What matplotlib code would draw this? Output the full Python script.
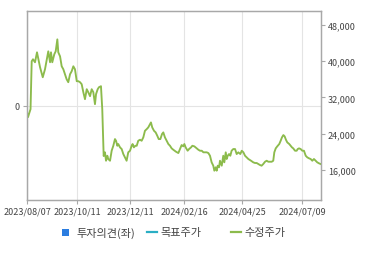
import matplotlib

matplotlib.use("Agg")
import matplotlib.pyplot as plt  # noqa: E402
from matplotlib.lines import Line2D  # noqa: E402
from matplotlib.patches import Rectangle  # noqa: E402
from matplotlib.ticker import FuncFormatter  # noqa: E402

plt.rcParams["font.family"] = ["Noto Sans CJK KR", "DejaVu Sans"]

# position along the x axis in trading sessions since 2023/08/07
days = [
    0, 0.85, 3.0, 4.0, 5.1, 6.8, 8.5, 11.1, 13.4, 15.3, 18.1, 19.6, 20.4, 21.5,
    23.2, 24.4, 25.8, 26.6, 28.1, 29.5, 30.9, 32.3, 33.7, 35.1, 36.6, 38.0,
    39.4, 40.8, 42.3, 43.6, 45.1, 46.5, 47.9, 49.3, 50.8, 52.1, 53.6, 55.0,
    56.4, 57.8, 58.7, 60.1, 61.2, 62.9, 64.0, 65.2, 66.3, 67.2, 68.3, 69.1,
    70.6, 72.0, 73.4, 74.8, 75.7, 76.8, 77.6, 79.1, 80.5, 81.9, 83.3, 84.7,
    86.1, 87.6, 89.0, 89.8, 90.9, 92.1, 93.3, 94.6, 96.1, 97.5, 98.9, 100.3,
    101.8, 103.1, 104.6, 105.4, 106.5, 108.0, 109.4, 110.8, 112.0, 113.4,
    114.8, 115.9, 117.3, 118.8, 120.2, 121.6, 123.0, 124.4, 126.7, 128.7,
    130.1, 131.5, 132.9, 133.8, 134.9, 136.6, 137.8, 139.5, 140.6, 142.3,
    144.3, 145.7, 147.1, 148.6, 150.0, 151.4, 152.8, 154.2, 155.6, 157.0,
    158.4, 159.3, 160.5, 161.3, 162.2, 163.3, 164.1, 165.6, 166.9, 167.8,
    169.0, 169.8, 170.7, 171.8, 172.9, 174.0, 175.4, 176.9, 178.3, 179.7,
    181.4, 182.6, 184.0, 185.4, 186.8, 188.2, 190.5, 192.4, 193.9, 195.3,
    196.7, 198.1, 199.5, 200.9, 202.4, 203.8, 205.2, 206.6, 208.1, 209.4,
    210.3, 211.5, 212.8, 214.5, 215.7, 216.8, 218.0, 219.1, 220.2, 221.3,
    223.0, 224.2, 225.3, 226.4, 227.9, 229.3, 230.2, 231.3, 232.7, 234.1,
    235.5, 237.0, 238.3, 239.8, 241.2, 242.6, 244.0, 245.5, 246.8, 248.3,
    249.7,
]

# 수정주가 (adjusted close, KRW)
prices = [
    28780, 27680, 29440, 39960, 40400, 39740, 41930, 38640, 36450, 38200,
    42150, 39740, 41930, 39740, 41490, 42150, 44780, 41930, 41050, 38860,
    38200, 37110, 36010, 35360, 37110, 37770, 38860, 38200, 35580, 35580,
    35360, 34920, 33160, 31630, 33820, 33160, 32290, 33820, 33160, 30530,
    32730, 33820, 34260, 34480, 29440, 19130, 19950, 18100, 19200, 18480,
    18100, 20300, 21390, 22860, 22490, 21390, 21770, 21040, 20670, 19570,
    18850, 18100, 19950, 20300, 21390, 21770, 21040, 21390, 21390, 22490,
    22710, 22490, 23230, 24680, 25050, 25420, 26150, 26520, 25420, 24680,
    24330, 23580, 22860, 22860, 23960, 24330, 23230, 22490, 21770, 21390,
    20820, 20520, 20080, 19790, 20670, 21550, 21260, 21770, 21040, 20300,
    20670, 21040, 21390, 21260, 20820, 20520, 20300, 20300, 19950, 19950,
    19950, 19790, 19200, 17750, 17010, 15910, 16660, 15910, 17010, 16660,
    18100, 17010, 19200, 17750, 19950, 18480, 19200, 19570, 19200, 20300,
    20670, 20670, 19570, 19950, 19570, 20300, 19950, 19200, 18850, 18480,
    18100, 17750, 17600, 17600, 17380, 17160, 17010, 17380, 17880, 18100,
    17880, 17880, 17880, 18100, 19950, 20820, 21260, 21770, 22490, 23230,
    23740, 23450, 22710, 22140, 21770, 21390, 21040, 20820, 20300, 20300,
    20670, 20820, 20670, 20300, 20300, 19200, 18850, 18630, 18480, 18100,
    18480, 18100, 17750, 17530, 17380,
]

date_ticks = [0, 42.5, 87.6, 133.5, 182.8, 233.8]
date_labels = ["2023/08/07", "2023/10/11", "2023/12/11", "2024/02/16",
               "2024/04/25", "2024/07/09"]
price_ticks = [16000, 24000, 32000, 40000, 48000]
opinion_ticks = [0]

TXT = "#444444"
SPINE = "#a8a8a8"
GRID = "#e4e4e4"
GREEN = "#8cbb4c"
FS = 6.5

fig = plt.figure(figsize=(3.7, 2.55), dpi=100)
ax = fig.add_axes([27 / 370, 54 / 255, 294 / 370, 189 / 255])

# left axis: 투자의견 (no data, only the 0 line)
ax.set_xlim(0, 250)
ax.set_ylim(-1, 1)
ax.set_yticks(opinion_ticks)
ax.set_xticks(date_ticks)
ax.set_xticklabels(date_labels)
ax.grid(True, color=GRID, lw=0.8)
ax.set_axisbelow(True)
ax.tick_params(axis="both", colors=SPINE, labelcolor=TXT, labelsize=FS,
               length=3, width=0.8, pad=2)

# right axis: price
ax2 = ax.twinx()
ax2.plot(days, prices, color=GREEN, lw=1.35, solid_joinstyle="round")
ax2.set_ylim(9470, 51010)
ax2.set_yticks(price_ticks)
ax2.yaxis.set_major_formatter(FuncFormatter(lambda v, p: f"{v:,.0f}"))
ax2.tick_params(axis="y", colors=SPINE, labelcolor=TXT, labelsize=FS,
                length=3, width=0.8, pad=2)

for a in (ax, ax2):
    for s in a.spines.values():
        s.set_color(SPINE)
        s.set_linewidth(0.9)

# legend row
ly = 22 / 255
fig.add_artist(Rectangle((62 / 370, ly - 3.5 / 255), 7 / 370, 7 / 255,
                         facecolor="#2b7de0", edgecolor="none"))
fig.text(76 / 370, ly, "투자의견(좌)", fontsize=8, color=TXT, va="center")
fig.add_artist(Line2D([147 / 370, 157 / 370], [ly, ly], color="#2aaec4", lw=1.6))
fig.text(160 / 370, ly, "목표주가", fontsize=8, color=TXT, va="center")
fig.add_artist(Line2D([231 / 370, 241 / 370], [ly, ly], color=GREEN, lw=1.6))
fig.text(244 / 370, ly, "수정주가", fontsize=8, color=TXT, va="center")

fig.savefig("out.png", dpi=100)
